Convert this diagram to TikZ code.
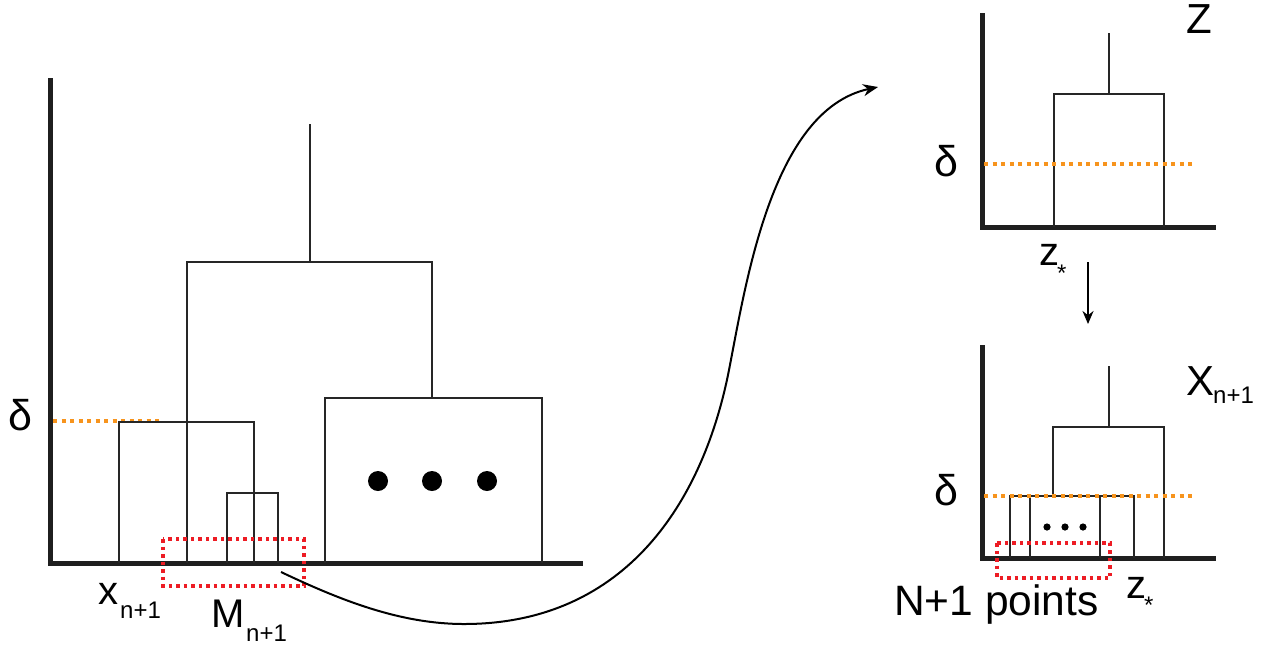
\documentclass[tikz,border=0pt]{standalone}
\usepackage{fontspec}
\setmainfont{Liberation Sans}
\usetikzlibrary{arrows.meta}
\definecolor{dorange}{HTML}{F7941D}
\definecolor{dred}{HTML}{ED1C24}
\tikzset{
  axisline/.style={line width=5pt, draw=black!88},
  dendro/.style={line width=2pt, draw=black!85},
  orangedots/.style={draw=dorange, line width=4pt, dash pattern=on 4pt off 4.5pt},
  reddots/.style={draw=dred, line width=3.5pt, dash pattern=on 3.5pt off 4pt},
  bigtxt/.style={inner sep=0pt, anchor=base west, font=\fontsize{40}{40}\selectfont},
  deltxt/.style={inner sep=0pt, anchor=base west, font=\fontsize{43}{43}\selectfont},
  subtxt/.style={inner sep=0pt, anchor=base west, font=\fontsize{24}{24}\selectfont},
  bigdot/.style={fill=black, draw=none},
}
\begin{document}
\begin{tikzpicture}[x=1pt,y=-1pt]
\useasboundingbox (0,0) rectangle (1263,649);
% ---------- left dendrogram ----------
\draw[axisline] (50,78) -- (50,563) -- (583,563);
\draw[orangedots] (53,421) -- (160,421);
\draw[dendro] (119,563) -- (119,422) -- (254,422) -- (254,563);
\draw[dendro] (227,563) -- (227,493) -- (278,493) -- (278,563);
\draw[dendro] (187,563) -- (187,262) -- (432,262) -- (432,398);
\draw[dendro] (310,262) -- (310,124);
\draw[dendro] (325,563) -- (325,398) -- (542,398) -- (542,563);
\fill[bigdot] (378,481) circle (10pt);
\fill[bigdot] (432,481) circle (10pt);
\fill[bigdot] (487,481) circle (10pt);
\draw[reddots] (163,539) rectangle (304,586);
\node[deltxt] (dl) at (8,430) {δ};
\node[bigtxt] (xl) at (98,604) {x};
\node[subtxt] (xs) at (120,618) {n+1};
\node[bigtxt] (ml) at (211,627) {M};
\node[subtxt] (ms) at (246,641) {n+1};
% ---------- top right ----------
\draw[axisline] (982,13) -- (982,227) -- (1216,227);
\draw[dendro] (1054,227) -- (1054,94) -- (1164,94) -- (1164,227);
\draw[dendro] (1109,94) -- (1109,33);
\draw[orangedots] (984,164) -- (1195,164);
\node[deltxt] (dt) at (934,176) {δ};
\node[bigtxt, font=\fontsize{42}{42}\selectfont] (zt) at (1186,33) {Z};
\node[bigtxt] (zst) at (1039,265) {z};
\node[subtxt] (zstar) at (1057,281) {*};
\coordinate (ad1) at (1088,262);
\coordinate (ad2) at (1088,324);
\draw[line width=2pt, -{Stealth[length=13pt,width=11pt]}] (ad1) -- (ad2);
% ---------- bottom right ----------
\draw[axisline] (982,345) -- (982,558) -- (1216,558);
\draw[dendro] (1053,496) -- (1053,427) -- (1164,427) -- (1164,558);
\draw[dendro] (1109,427) -- (1109,366);
\draw[dendro] (1010,558) -- (1010,496) -- (1134,496) -- (1134,558);
\draw[dendro] (1030,496) -- (1030,558);
\draw[dendro] (1100,496) -- (1100,558);
\draw[orangedots] (984,496) -- (1195,496);
\fill[bigdot] (1047,527) circle (3.6pt);
\fill[bigdot] (1065,527) circle (3.6pt);
\fill[bigdot] (1083,527) circle (3.6pt);
\draw[reddots] (997,543) rectangle (1110,578);
\node[deltxt] (db) at (934,505) {δ};
\node[bigtxt, font=\fontsize{42}{42}\selectfont] (xb) at (1186,395) {X};
\node[subtxt] (xbs) at (1213,403) {n+1};
\node[bigtxt] (zsb) at (1126,598) {z};
\node[subtxt] (zstarb) at (1144,613) {*};
\node[bigtxt, font=\fontsize{42.5}{42.5}\selectfont] (np) at (894,615) {N+1 points};
% ---------- connector ----------
\coordinate (cs) at (281,572);
\coordinate (ce) at (878,87);
\draw[line width=2pt, -{Stealth[length=15pt,width=12pt]}]
  (cs) .. controls (340,600) and (400,624) .. (464,624)
       .. controls (620,624) and (700,510) .. (728,375)
       .. controls (745,290) and (770,110) .. (ce);
\end{tikzpicture}
\end{document}
